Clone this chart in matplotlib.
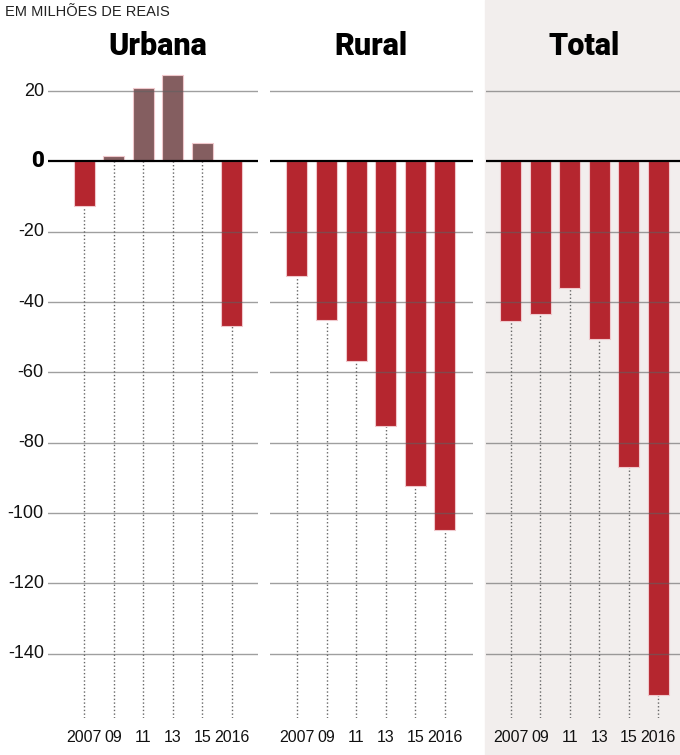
import matplotlib
matplotlib.use("Agg")
import matplotlib.pyplot as plt
from matplotlib.patches import Rectangle

# data, millions of reais
years = ["2007", "09", "11", "13", "15", "2016"]
urbana = [-12.6, 1.6, 20.8, 24.6, 5.2, -46.8]
rural = [-32.7, -45.2, -56.8, -75.2, -92.3, -104.8]
total = [-45.4, -43.3, -36.0, -50.5, -86.8, -151.8]
yticks = [20, 0, -20, -40, -60, -80, -100, -120, -140]

RED = "#b5262f"
BROWN = "#845e60"
FONT = ["Liberation Sans", "DejaVu Sans"]

W, H = 680, 755
fig = plt.figure(figsize=(W / 100, H / 100), dpi=100)

# shaded box behind the Total panel
fig.patches.append(Rectangle((485 / W, 0), 1 - 485 / W, 1, transform=fig.transFigure,
                             color="#f2eeed", zorder=-1))


def px_axes(left, right, top=56, bottom=718):
    ax = fig.add_axes([left / W, 1 - bottom / H, (right - left) / W, (bottom - top) / H])
    ax.patch.set_alpha(0)
    return ax


panels = [
    ("Urbana", urbana, (48, 258), (-1.22, 5.88)),
    ("Rural", rural, (270, 473), (-0.91, 5.95)),
    ("Total", total, (486, 680), (-0.83, 5.73)),
]

for i, (name, vals, (l, r), xlim) in enumerate(panels):
    ax = px_axes(l, r)
    ax.set_xlim(*xlim)
    ax.set_ylim(-158.3, 30)
    x = range(len(vals))
    colors = [BROWN if v > 0 else RED for v in vals]

    ax.vlines(x, -158.3, 0, colors="#666666", linestyles=":", lw=1, zorder=1)
    ax.bar(x, vals, width=0.71, color=colors, edgecolor="#f0c8cc", lw=0.8, zorder=2)
    for y in yticks:
        if y != 0:
            ax.axhline(y, color="#606060", lw=1, alpha=0.6, zorder=3)
    ax.axhline(0, color="black", lw=1.6, zorder=4)

    ax.text(2.5, 32.9, name, ha="center", va="center", fontsize=22,
            family="Roboto", fontweight="black", clip_on=False)

    for s in ax.spines.values():
        s.set_visible(False)
    ax.set_xticks(list(x))
    ax.set_xticklabels(years, family=FONT, fontsize=11.5, color="#111111")
    ax.tick_params(axis="x", length=0, pad=9)
    ax.set_yticks([])
    if i == 0:
        for y in yticks:
            if y == 0:
                ax.text(-0.02, y, "0", transform=ax.get_yaxis_transform(),
                        ha="right", va="center", family="Roboto", fontweight="black",
                        fontsize=16, color="black")
            else:
                ax.text(-0.02, y, str(y), transform=ax.get_yaxis_transform(),
                        ha="right", va="center", family=FONT, color="#111111",
                        fontsize=13)

fig.text(5 / W, 1 - 12 / H, "EM MILHÕES DE REAIS", family=FONT, fontsize=10.5,
         ha="left", va="center", color="#222222")

fig.savefig("out.png", dpi=100)
